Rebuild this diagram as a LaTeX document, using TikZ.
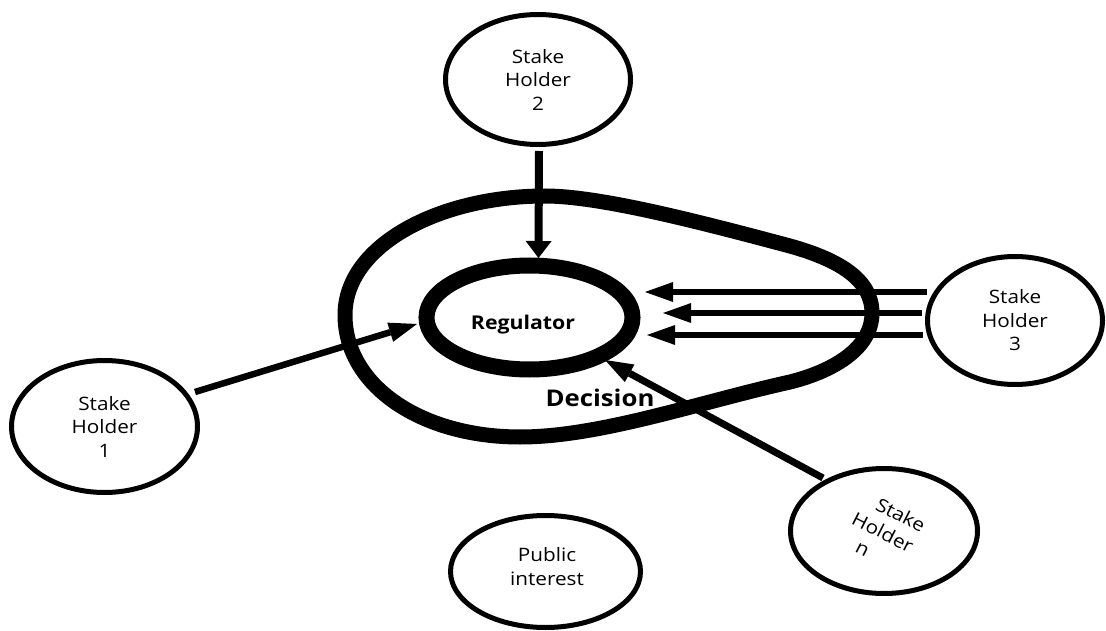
\documentclass[tikz,border=0pt]{standalone}
\usepackage{fontspec}
\setmainfont{Open Sans}[FakeStretch=1.12]
\usetikzlibrary{shapes.geometric,arrows.meta,calc}
\begin{document}
\begin{tikzpicture}[x=1pt,y=-1pt,
  holder/.style={ellipse, draw, line width=5pt, inner sep=0pt, outer sep=0pt, align=center, font=\fontsize{18.5}{23.5}\selectfont},
  ring/.style={ellipse, draw, line width=16pt, inner sep=0pt, outer sep=0pt},
  txt/.style={inner sep=0pt, align=center, font=\fontsize{18.5}{23.5}\selectfont},
  conn/.style={line width=6.5pt, -{Triangle[length=28pt,width=20pt,line width=0pt]}},
  decision/.style={line width=15pt, line join=round}
]
\useasboundingbox (0,0) rectangle (1106,631);

% Decision loop
\draw[decision] (345,315) .. controls (345,245) and (440,196) .. (545,196)
  .. controls (600,196) and (700,222) .. (790,246)
  .. controls (840,260) and (872,280) .. (872,313)
  .. controls (872,350) and (830,372) .. (790,382)
  .. controls (700,402) and (600,437) .. (520,437)
  .. controls (420,437) and (345,385) .. (345,315) -- cycle;

% Nodes
\node[holder, minimum width=185pt, minimum height=130pt] (sh2) at (538,79.5) {Stake\\Holder\\2};
\node[holder, minimum width=186pt, minimum height=132pt] (sh1) at (104.5,426.5) {Stake\\Holder\\1};
\node[holder, minimum width=175pt, minimum height=128pt] (sh3) at (1015,320.5) {Stake\\Holder\\3};
\node[holder, minimum width=187pt, minimum height=125pt] (shn) at (884,531) {};
\node[txt, rotate=-27] (shnt) at (883,532) {\hspace*{16pt}Stake\\Holder\\n\hspace*{21pt}};
\node[holder, minimum width=190pt, minimum height=112pt] (pub) at (545.5,571.5) {};
\node[txt] (pubt) at (547,566.5) {Public\\interest};
\node[ring, minimum width=206pt, minimum height=104pt] (reg) at (529.5,317.5) {};
\node[txt, font=\bfseries\fontsize{19}{23}\selectfont] (regt) at (523,325) {Regulator};
\node[txt, font=\bfseries\fontsize{23}{27}\selectfont] (dect) at (600,398) {Decision};

% Connectors
\draw[line width=8pt, -{Triangle[length=17pt,width=26pt,line width=0pt]}]
  ($(sh2.center)+(1,71.5)$) -- ($(reg.center)+(9,-59.5)$);
\draw[conn] ($(sh1.center)+(90.5,-34.5)$) -- ($(reg.center)+(-112.5,6.5)$);
\draw[conn, line width=7pt] ($(shn.center)+(-61,-53)$) -- ($(reg.center)+(75.5,42.5)$);
\draw[conn] ($(sh3.center)+(-88,-28.5)$) -- ($(reg.center)+(115.5,-25.5)$);
\draw[conn] ($(sh3.center)+(-93,-7.5)$) -- ($(reg.center)+(133.5,-4.5)$);
\draw[conn] ($(sh3.center)+(-92,14.5)$) -- ($(reg.center)+(117.5,17.5)$);
\end{tikzpicture}
\end{document}
